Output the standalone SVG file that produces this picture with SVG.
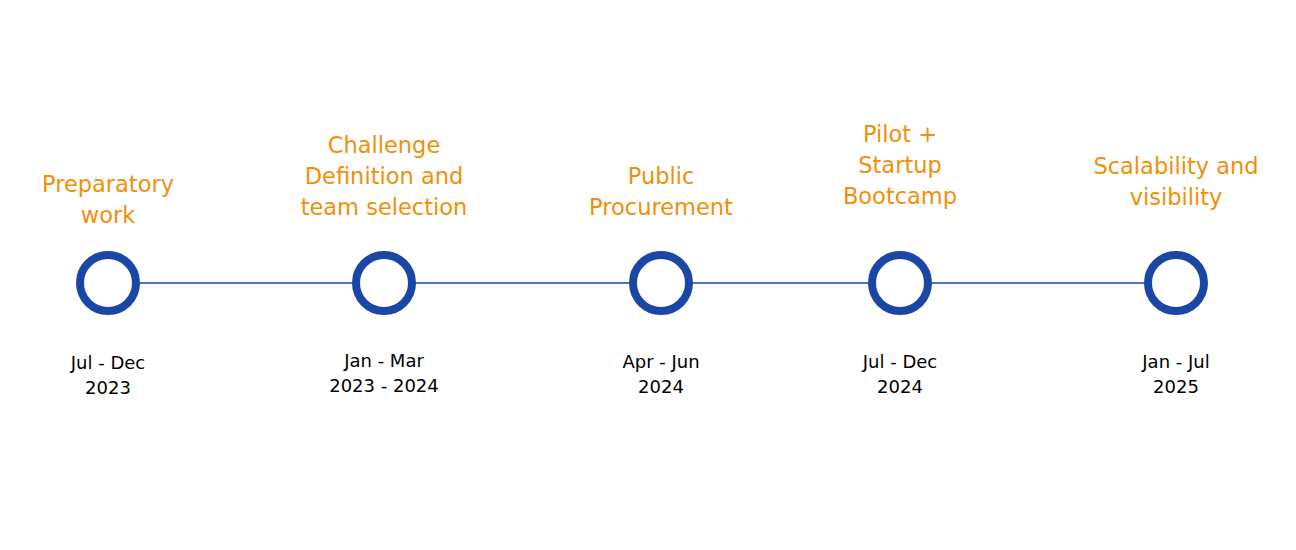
<svg xmlns="http://www.w3.org/2000/svg" width="1296" height="550" viewBox="0 0 1296 550">
<style>
.t{font-family:"DejaVu Sans",Verdana,sans-serif;font-size:22.5px;fill:#f0900a;text-anchor:middle}
.d{font-family:"DejaVu Sans",Verdana,sans-serif;font-size:18px;fill:#000;text-anchor:middle}
.c{fill:#fff;stroke:#1a47a5;stroke-width:8}
</style>
<rect width="1296" height="550" fill="#fff"/>
<g id="connectors"><line x1="108" y1="283" x2="1176" y2="283" stroke="#1a47a5" stroke-width="1.5"/></g>
<g id="n1"><circle class="c" cx="108" cy="283" r="28"/><text class="t" x="108" y="192">Preparatory</text><text class="t" x="108" y="223">work</text><text class="d" x="108" y="369">Jul - Dec</text><text class="d" x="108" y="394">2023</text></g>
<g id="n2"><circle class="c" cx="384" cy="283" r="28"/><text class="t" x="384" y="153">Challenge</text><text class="t" x="384" y="184">Definition and</text><text class="t" x="384" y="215">team selection</text><text class="d" x="384" y="367">Jan - Mar</text><text class="d" x="384" y="392">2023 - 2024</text></g>
<g id="n3"><circle class="c" cx="661" cy="283" r="28"/><text class="t" x="661" y="184">Public</text><text class="t" x="661" y="215">Procurement</text><text class="d" x="661" y="368">Apr - Jun</text><text class="d" x="661" y="393">2024</text></g>
<g id="n4"><circle class="c" cx="900" cy="283" r="28"/><text class="t" x="900" y="142">Pilot +</text><text class="t" x="900" y="173">Startup</text><text class="t" x="900" y="204">Bootcamp</text><text class="d" x="900" y="368">Jul - Dec</text><text class="d" x="900" y="393">2024</text></g>
<g id="n5"><circle class="c" cx="1176" cy="283" r="28"/><text class="t" x="1176" y="174">Scalability and</text><text class="t" x="1176" y="205">visibility</text><text class="d" x="1176" y="368">Jan - Jul</text><text class="d" x="1176" y="393">2025</text></g>
</svg>
